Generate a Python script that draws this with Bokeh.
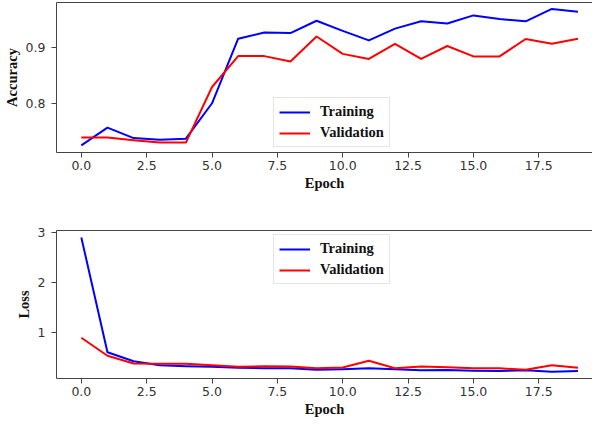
from bokeh.plotting import figure
from bokeh.layouts import column
from bokeh.models import (Range1d, FixedTicker, PrintfTickFormatter, LinearAxis,
                          Legend, LegendItem)
from bokeh.embed import file_html
from bokeh.resources import INLINE

# ---- data ----
epochs = list(range(20))
train_acc = [0.726, 0.7575, 0.739, 0.736, 0.738, 0.801, 0.916, 0.927, 0.926, 0.948,
             0.930, 0.913, 0.934, 0.947, 0.943, 0.9575, 0.951, 0.947, 0.969, 0.964]
val_acc = [0.740, 0.740, 0.735, 0.731, 0.731, 0.830, 0.885, 0.885, 0.8755, 0.920,
           0.889, 0.880, 0.907, 0.880, 0.903, 0.8845, 0.8845, 0.9155, 0.907, 0.916]
train_loss = [2.90, 0.61, 0.43, 0.35, 0.33, 0.32, 0.30, 0.29, 0.29, 0.26,
              0.27, 0.29, 0.27, 0.25, 0.255, 0.24, 0.235, 0.25, 0.22, 0.235]
val_loss = [0.90, 0.54, 0.385, 0.38, 0.38, 0.35, 0.32, 0.33, 0.325, 0.29,
            0.305, 0.44, 0.29, 0.325, 0.31, 0.29, 0.29, 0.26, 0.35, 0.30]
x_ticks = [0, 2.5, 5, 7.5, 10, 12.5, 15, 17.5]
acc_ticks = [0.8, 0.9]
loss_ticks = [1, 2, 3]
series_names = ["Training", "Validation"]
series_colors = ["#0000ff", "#ff0000"]

AXIS_COLOR = "#444444"
TICK_LABEL_COLOR = "#333333"
LABEL_FONT = "Liberation Serif"
TICK_FONT = "DejaVu Sans"


def make_plot(height, border_top, border_bottom, y_range, y_ticks, y_fmt, y_label,
              ys, legend_loc):
    p = figure(width=592, height=height, output_backend="svg", toolbar_location=None,
               x_range=Range1d(-0.95, 19.556), y_range=y_range,
               min_border_left=56, min_border_right=0,
               min_border_top=border_top, min_border_bottom=border_bottom,
               background_fill_color="white", border_fill_color="white")
    p.outline_line_color = None
    p.grid.visible = False

    renderers = []
    for vals, color in zip(ys, series_colors):
        r = p.line(epochs, vals, line_color=color, line_width=2, line_join="round")
        renderers.append(r)

    # bottom axis
    xa = p.xaxis[0]
    xa.ticker = FixedTicker(ticks=x_ticks)
    xa.formatter = PrintfTickFormatter(format="%.1f")
    xa.axis_label = "Epoch"
    # left axis
    ya = p.yaxis[0]
    ya.ticker = FixedTicker(ticks=y_ticks)
    ya.formatter = PrintfTickFormatter(format=y_fmt)
    ya.axis_label = y_label

    for ax in (xa, ya):
        ax.axis_line_color = AXIS_COLOR
        ax.axis_line_width = 1
        ax.major_tick_line_color = AXIS_COLOR
        ax.major_tick_out = 5
        ax.major_tick_in = 0
        ax.minor_tick_line_color = None
        ax.major_label_text_font = TICK_FONT
        ax.major_label_text_font_size = "12.5px"
        ax.major_label_text_color = TICK_LABEL_COLOR
        ax.axis_label_text_font = LABEL_FONT
        ax.axis_label_text_font_style = "bold"
        ax.axis_label_text_font_size = "14.5px"
        ax.axis_label_text_color = "#111111"
    xa.major_label_standoff = 3
    xa.axis_label_standoff = 2
    ya.major_label_standoff = 6
    ya.axis_label_standoff = 3

    # top frame line
    top = LinearAxis(ticker=FixedTicker(ticks=[]), axis_line_color=AXIS_COLOR,
                     major_tick_line_color=None, minor_tick_line_color=None,
                     major_label_text_font_size="0px")
    p.add_layout(top, "above")

    legend = Legend(items=[LegendItem(label=n, renderers=[r])
                           for n, r in zip(series_names, renderers)],
                    location=legend_loc)
    legend.label_text_font = LABEL_FONT
    legend.label_text_font_style = "bold"
    legend.label_text_font_size = "14.5px"
    legend.label_text_color = "#111111"
    legend.border_line_color = "#cccccc"
    legend.border_line_width = 1
    legend.background_fill_color = "white"
    legend.background_fill_alpha = 0.85
    legend.padding = 5
    legend.spacing = 4
    legend.margin = 0
    legend.glyph_width = 31
    legend.glyph_height = 16
    legend.label_height = 16
    legend.label_standoff = 10
    p.add_layout(legend)
    return p


p1 = make_plot(212, 2, 60, Range1d(0.7133, 0.9805), acc_ticks, "%.1f", "Accuracy",
               [train_acc, val_acc], (217, 5))
p2 = make_plot(208, 18, 42, Range1d(0.086, 3.04), loss_ticks, "%d", "Loss",
               [train_loss, val_loss], (217, 94))

layout = column(p1, p2, spacing=0)
open("out.html", "w").write(file_html(layout, INLINE))
